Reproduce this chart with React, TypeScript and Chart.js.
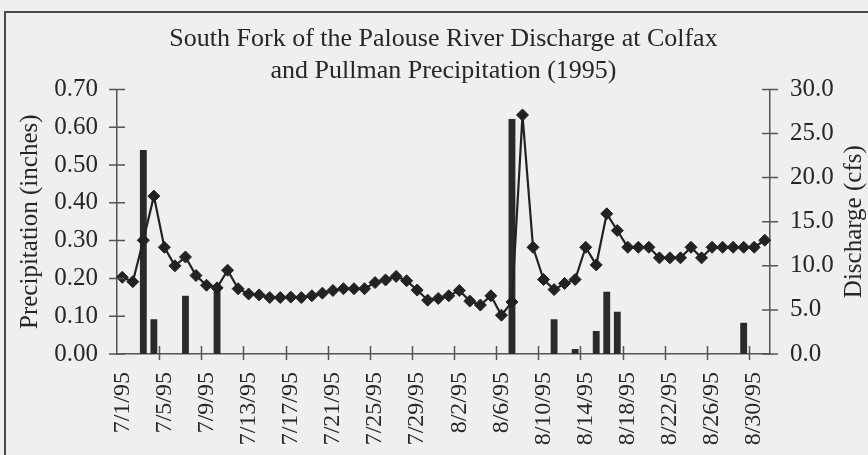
import React, { useEffect, useRef } from "react";
import { Chart, registerables } from "chart.js";

Chart.register(...registerables);

const categories: string[] = [
  "7/1/95", "7/2/95", "7/3/95", "7/4/95", "7/5/95", "7/6/95", "7/7/95", "7/8/95",
  "7/9/95", "7/10/95", "7/11/95", "7/12/95", "7/13/95", "7/14/95", "7/15/95", "7/16/95",
  "7/17/95", "7/18/95", "7/19/95", "7/20/95", "7/21/95", "7/22/95", "7/23/95", "7/24/95",
  "7/25/95", "7/26/95", "7/27/95", "7/28/95", "7/29/95", "7/30/95", "7/31/95",
  "8/1/95", "8/2/95", "8/3/95", "8/4/95", "8/5/95", "8/6/95", "8/7/95", "8/8/95",
  "8/9/95", "8/10/95", "8/11/95", "8/12/95", "8/13/95", "8/14/95", "8/15/95", "8/16/95",
  "8/17/95", "8/18/95", "8/19/95", "8/20/95", "8/21/95", "8/22/95", "8/23/95", "8/24/95",
  "8/25/95", "8/26/95", "8/27/95", "8/28/95", "8/29/95", "8/30/95", "8/31/95",
];

// Discharge at Colfax (cfs)
const discharge: number[] = [
  8.7, 8.2, 12.9, 17.9, 12.1, 10.0, 11.0, 8.9, 7.8, 7.5,
  9.5, 7.4, 6.8, 6.7, 6.4, 6.4, 6.45, 6.4, 6.6, 6.9,
  7.2, 7.4, 7.4, 7.4, 8.1, 8.4, 8.8, 8.3, 7.25, 6.1,
  6.3, 6.6, 7.2, 6.0, 5.55, 6.6, 4.4, 5.9, 27.1, 12.1,
  8.45, 7.3, 8.0, 8.45, 12.1, 10.1, 15.9, 14.0, 12.1, 12.1,
  12.1, 10.9, 10.9, 10.9, 12.1, 10.9, 12.1, 12.1, 12.1, 12.1,
  12.1, 12.9,
];

// Pullman precipitation (inches)
const precipitation: number[] = [
  0, 0, 0.54, 0.092, 0, 0, 0.154, 0, 0, 0.178,
  0, 0, 0, 0, 0, 0, 0, 0, 0, 0,
  0, 0, 0, 0, 0, 0, 0, 0, 0, 0,
  0, 0, 0, 0, 0, 0, 0, 0.622, 0, 0,
  0, 0.092, 0, 0.013, 0, 0.061, 0.165, 0.112, 0, 0,
  0, 0, 0, 0, 0, 0, 0, 0, 0, 0.083,
  0, 0,
];

const titleLines: string[] = [
  "South Fork of the Palouse River Discharge at Colfax",
  "and Pullman Precipitation (1995)",
];
const leftAxisTitle = "Precipitation (inches)";
const rightAxisTitle = "Discharge (cfs)";

const FONT = '"Liberation Serif", "Times New Roman", serif';
const TEXT = "#262626";
const AXIS = "#555555";
const BG = "#efefed";

const crossTicks = {
  id: "crossTicks",
  afterDraw(chart: any) {
    const ctx = chart.ctx;
    const x = chart.scales.x;
    const yP = chart.scales.yP;
    const yD = chart.scales.yD;
    ctx.save();
    ctx.strokeStyle = AXIS;
    ctx.lineWidth = 1.5;
    ctx.beginPath();
    yP.ticks.forEach((_t: any, i: number) => {
      const py = yP.getPixelForTick(i);
      ctx.moveTo(yP.right - 8, py);
      ctx.lineTo(yP.right + 8, py);
    });
    yD.ticks.forEach((_t: any, i: number) => {
      const py = yD.getPixelForTick(i);
      ctx.moveTo(yD.left - 8, py);
      ctx.lineTo(yD.left + 8, py);
    });
    const n = categories.length;
    const w = (x.right - x.left) / n;
    for (let i = 4; i < n; i += 4) {
      const px = Math.round(x.getPixelForValue(i) - w / 2) + 0.5;
      ctx.moveTo(px, x.top - 8);
      ctx.lineTo(px, x.top + 6);
    }
    ctx.stroke();
    // right axis title (reads bottom-to-top as in the reference)
    const area = chart.chartArea;
    ctx.translate(854, (area.top + area.bottom) / 2);
    ctx.rotate(-Math.PI / 2);
    ctx.fillStyle = TEXT;
    ctx.font = `25px ${FONT}`;
    ctx.textAlign = "center";
    ctx.textBaseline = "middle";
    ctx.fillText(rightAxisTitle, 0, 0);
    ctx.restore();
  },
};

export default function App() {
  const ref = useRef<HTMLCanvasElement | null>(null);

  useEffect(() => {
    if (!ref.current) return;
    const chart = new Chart(ref.current, {
      type: "bar",
      data: {
        labels: categories,
        datasets: [
          {
            type: "line",
            label: "Discharge",
            data: discharge,
            yAxisID: "yD",
            borderColor: "#222222",
            borderWidth: 2.2,
            pointStyle: "rectRot",
            pointRadius: 6,
            pointBackgroundColor: "#222222",
            pointBorderColor: "#222222",
            pointBorderWidth: 1,
            tension: 0,
            order: 0,
          } as any,
          {
            type: "bar",
            label: "Precipitation",
            data: precipitation,
            yAxisID: "yP",
            backgroundColor: "#2a2a2a",
            barPercentage: 0.65,
            categoryPercentage: 1,
            order: 1,
          },
        ],
      },
      options: {
        responsive: false,
        animation: false,
        events: [],
        layout: { padding: 0 },
        plugins: {
          legend: { display: false },
          tooltip: { enabled: false },
          title: {
            display: true,
            fullSize: false,
            text: titleLines,
            color: TEXT,
            font: { family: FONT, size: 26, weight: "normal", lineHeight: 1.2 },
            padding: { top: 24, bottom: 3 },
          },
        },
        scales: {
          x: {
            type: "category",
            offset: true,
            grid: { display: false },
            border: { display: true, color: AXIS, width: 1.5 },
            ticks: {
              autoSkip: false,
              maxRotation: 90,
              minRotation: 90,
              padding: 10,
              color: TEXT,
              font: { family: FONT, size: 24 },
              callback: (_v: any, i: number) => (i % 4 === 0 ? categories[i] : ""),
            },
            afterFit: (s: any) => {
              s.height = 101;
            },
          },
          yP: {
            type: "linear",
            position: "left",
            min: 0,
            max: 0.7,
            grid: { display: false },
            border: { display: true, color: AXIS, width: 1.5 },
            ticks: {
              stepSize: 0.1,
              padding: 11,
              color: TEXT,
              font: { family: FONT, size: 25 },
              callback: (v: any) => Number(v).toFixed(2),
            },
            title: {
              display: true,
              text: leftAxisTitle,
              color: TEXT,
              font: { family: FONT, size: 25, lineHeight: 1.2 },
              padding: { top: 15, bottom: 0 },
            },
            afterFit: (s: any) => {
              s.width = 117;
            },
          },
          yD: {
            type: "linear",
            position: "right",
            min: 0,
            max: 30,
            grid: { display: false },
            border: { display: true, color: AXIS, width: 1.5 },
            ticks: {
              stepSize: 5,
              padding: 12,
              color: TEXT,
              font: { family: FONT, size: 25 },
              callback: (v: any) => Number(v).toFixed(1),
            },
            afterFit: (s: any) => {
              s.width = 98;
            },
          },
        },
      },
      plugins: [crossTicks],
    });
    return () => chart.destroy();
  }, []);

  return (
    <div
      style={{
        position: "fixed",
        left: 0,
        top: 0,
        width: 868,
        height: 455,
        overflow: "hidden",
        background: BG,
      }}
    >
      <div
        style={{
          position: "absolute",
          left: 4,
          top: 11,
          width: 900,
          height: 500,
          border: "2px solid #4a4a4a",
          boxSizing: "border-box",
        }}
      />
      <canvas
        ref={ref}
        width={868}
        height={455}
        style={{ position: "absolute", left: 0, top: 0, width: 868, height: 455 }}
      />
    </div>
  );
}
